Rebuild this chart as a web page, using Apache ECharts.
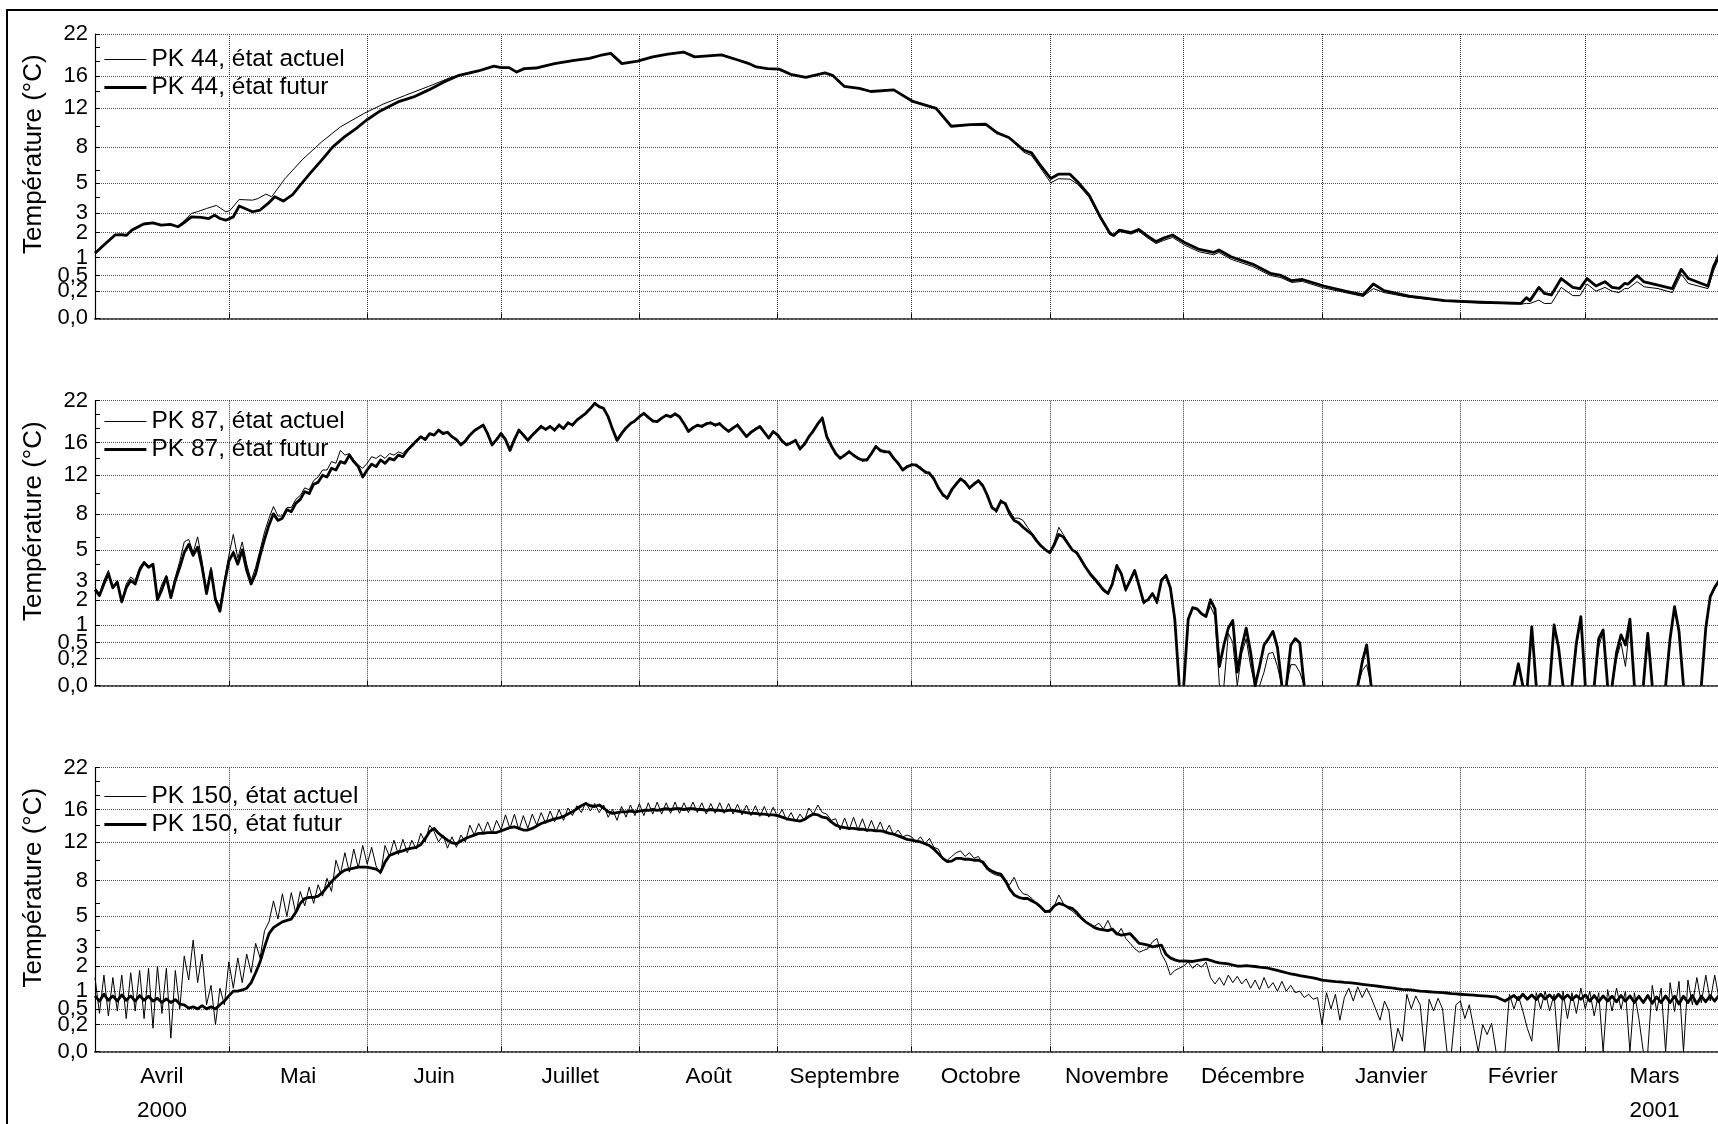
<!DOCTYPE html>
<html><head><meta charset="utf-8">
<script src="https://cdn.jsdelivr.net/npm/echarts@6/dist/echarts.min.js"></script>
<style>html,body{margin:0;padding:0;background:#fff}#c{width:1718px;height:1124px}</style>
</head><body><div id="c"></div>
<script>
// ---------- axes ----------
const monthNames = ['Avril','Mai','Juin','Juillet','Août','Septembre','Octobre','Novembre','Décembre','Janvier','Février','Mars'];
const yearUnderMonth = ['2000','','','','','','','','','','','2001'];
const monthStarts = [0,30,61,91,122,153,183,214,244,275,306,334,365];
const monthMids = [15,45.5,76,106.5,137.5,168,198.5,229,259.5,290.5,320,349.5];
const yTickValues = [0,0.2,0.5,1,2,3,5,8,12,16,22];
const yTickLabels = ['0,0','0,2','0,5','1','2','3','5','8','12','16','22'];
const yMinorTickValues = [4,6,10,14,18,20];

// ---------- PK 44 : [day since 1 April 2000, °C] ----------
const pk44Actuel = [[0,1.15],[2,1.46],[4.5,1.89],[6,1.9],[7,1.87],[8.3,2.12],[10.9,2.42],[13,2.48],[14.8,2.36],[16.9,2.4],[18.6,2.3],[20,2.6],[21.6,2.99],[23,3.1],[25,3.28],[27.2,3.47],[29.3,3.09],[30.2,3.15],[32.3,3.84],[35.3,3.8],[36.5,3.9],[38.3,4.2],[39.6,4.02],[42.6,5.32],[46.5,6.86],[50.8,8.47],[55,9.97],[60.2,11.4],[64.5,12.47],[69.6,13.54],[74.8,14.65],[80,15.85],[84.2,16.5],[85.9,16.65],[89.4,17.3],[91,17.1],[92.8,17.1],[94.5,16.5],[96.2,16.97],[98.8,17.05],[103,17.65],[107.4,18.1],[110.8,18.4],[113.2,18.8],[115.6,19.1],[118.1,17.65],[121.6,18.0],[125,18.6],[128.4,19.0],[131.9,19.3],[134.4,18.6],[140.4,18.9],[143.9,18.2],[146.4,17.7],[148.2,17.2],[150.7,16.97],[153.3,16.9],[155.9,16.2],[159.3,15.8],[163.6,16.4],[165.3,16.07],[167.9,14.65],[171.3,14.4],[173.9,14.0],[179,14.2],[183.3,12.8],[188.5,12],[191.9,10.04],[196.2,10.2],[199.6,10.25],[202.2,9.36],[204.8,8.9],[208.2,7.5],[209.9,7.2],[211.6,6.3],[214.2,5.0],[215.9,5.3],[218.5,5.27],[220.2,4.9],[222.8,4.0],[225.3,2.7],[227.5,1.9],[228.3,1.82],[229.6,2.05],[232.2,1.93],[233.9,2.08],[235.6,1.8],[237.8,1.52],[239.5,1.65],[241.5,1.78],[244.3,1.45],[247.5,1.2],[250.7,1.1],[251.9,1.18],[254.6,0.95],[259.4,0.73],[263.4,0.5],[265.8,0.45],[268.2,0.35],[270.6,0.37],[275.4,0.25],[280.2,0.18],[284.2,0.13],[286.5,0.24],[288.9,0.18],[294.5,0.12],[302.5,0.08],[310.5,0.065],[319.6,0.055],[320.8,0.06],[321.6,0.06],[323.6,0.09],[324.8,0.06],[326.4,0.06],[328.6,0.26],[331.2,0.14],[332.8,0.14],[334.4,0.32],[336.4,0.2],[338.4,0.26],[340,0.2],[341.6,0.18],[342.8,0.24],[343.6,0.24],[345.6,0.365],[347.2,0.27],[350.3,0.24],[353.5,0.18],[355.5,0.53],[357.1,0.33],[361.5,0.24],[362.7,0.6],[363.7,0.9],[365,1.3]];
const pk44Futur = [[0,1.15],[2,1.46],[4.5,1.89],[6,1.9],[7,1.87],[8.3,2.12],[10.9,2.42],[13,2.48],[14.8,2.36],[16.9,2.4],[18.6,2.28],[19.9,2.48],[21.6,2.8],[23.8,2.77],[25.5,2.71],[26.8,2.9],[28,2.71],[29.3,2.62],[31,2.8],[32.3,3.43],[33.6,3.28],[35.3,3.09],[37,3.19],[38.8,3.59],[40.3,4.02],[42.2,3.74],[44.3,4.17],[46,4.83],[48.2,5.71],[50.8,6.81],[53.3,8],[55.9,8.96],[58.5,9.8],[60.8,10.68],[63.6,11.6],[67.9,12.74],[71.4,13.34],[74.8,14.2],[78.2,15.2],[81.6,16.07],[85.9,16.65],[89.4,17.3],[91,17.1],[92.8,17.1],[94.5,16.5],[96.2,16.97],[98.8,17.05],[103,17.65],[107.4,18.1],[110.8,18.4],[113.2,18.8],[115.6,19.1],[118.1,17.65],[121.6,18.0],[125,18.6],[128.4,19.0],[131.9,19.3],[134.4,18.6],[140.4,18.9],[143.9,18.2],[146.4,17.7],[148.2,17.2],[150.7,16.97],[153.3,16.9],[155.9,16.2],[159.3,15.8],[163.6,16.4],[165.3,16.07],[167.9,14.65],[171.3,14.4],[173.9,14.0],[179,14.2],[183.3,12.8],[188.5,12],[191.9,10.04],[196.2,10.2],[199.6,10.25],[202.2,9.36],[204.8,8.9],[208.2,7.69],[209.9,7.45],[211.6,6.52],[214.2,5.32],[215.9,5.65],[218.5,5.65],[220.2,5.08],[222.8,4.13],[225.3,2.8],[227.5,1.96],[228.3,1.88],[229.6,2.12],[232.2,2.0],[233.9,2.15],[235.6,1.88],[237.8,1.6],[239.5,1.75],[241.5,1.89],[244.3,1.55],[247.5,1.29],[250.7,1.18],[251.9,1.27],[254.6,1.03],[259.4,0.8],[263.4,0.55],[265.8,0.5],[268.2,0.385],[270.6,0.41],[275.4,0.284],[280.2,0.2],[284.2,0.148],[286.5,0.32],[288.9,0.208],[294.5,0.135],[302.5,0.085],[310.5,0.07],[319.6,0.061],[320.8,0.116],[321.6,0.085],[323.6,0.26],[324.8,0.17],[326.4,0.148],[328.6,0.43],[331.2,0.26],[332.8,0.24],[334.4,0.43],[336.4,0.284],[338.4,0.365],[340,0.26],[341.6,0.244],[342.8,0.33],[343.6,0.32],[345.6,0.5],[347.2,0.36],[350.3,0.3],[353.5,0.24],[355.5,0.65],[357.1,0.43],[361.5,0.284],[362.7,0.72],[363.7,1.01],[365,1.4]];

// ---------- PK 87 : daily °C, one array per month (Avril ... Mars) ----------
const pk87Actuel = [
 [2.6,2.3,3.0,3.6,2.6,3.0,1.9,2.8,3.2,3.0,3.8,4.2,3.9,3.8,2.1,2.8,3.3,2.2,3.2,4.2,5.6,5.8,4.8,6.0,4.2,2.4,3.8,2.1,1.7,3.0],
 [4.6,6.2,4.4,5.6,4.0,3.0,3.8,5.0,6.4,7.6,8.7,7.8,7.8,8.6,8.6,9.4,9.8,10.6,10.4,11.4,11.8,12.6,12.6,13.6,13.4,15.0,14.4,14.6,13.8,13.2,12.8],
 [13.4,14.2,14.0,14.4,14.0,14.6,14.4,14.8,14.6,15.2,15.8,16.4,16.8,16.6,17.2,17.0,17.7,17.4,17.4,16.9,16.4,15.8,16.4,17.1,17.7,18.1,18.5,17.0,15.8,16.6],
 [17.4,16.6,15.2,16.6,17.8,17.2,16.5,17.2,17.8,18.4,17.6,18.4,17.5,18.6,17.8,18.9,18.2,19.3,19.4,20.3,20.6,21.8,20.9,21.0,19.4,18.0,16.5,17.4,17.8,18.8,18.8],
 [19.8,19.9,19.7,18.8,19.1,19.2,20.0,19.4,20.2,19.4,18.8,17.7,18.2,18.2,18.4,18.4,18.9,18.2,18.8,17.8,17.7,17.8,18.6,17.4,17.0,17.2,18.0,18.0,17.2,16.8,17.3],
 [17.2,16.0,15.9,15.8,16.5,15.0,16.0,16.6,17.8,18.4,19.6,16.6,15.8,14.4,14.2,14.2,15.0,14.2,14.2,13.6,14.0,14.4,15.7,14.8,15.0,14.6,14.2,13.2,12.8,12.8],
 [13.4,13.0,13.0,12.2,12.4,11.4,10.8,9.7,9.7,10.2,11.2,11.4,11.4,10.4,11.2,11.2,11.0,9.6,8.8,8.1,9.4,8.8,8.3,7.6,7.6,7.4,6.8,6.3,5.8,5.2,5.0],
 [4.7,5.6,6.8,6.2,5.6,5.0,4.7,4.2,3.8,3.3,3.0,2.7,2.4,2.3,2.9,4.0,3.3,2.4,3.1,3.5,2.6,1.8,2.0,2.3,1.8,3.1,3.2,2.5,1.1,0],
 [0,1.2,1.65,1.55,1.4,1.3,1.7,1.3,0,0,0.74,0.5,0,0.28,0.6,0.1,0,0,0.05,0.28,0.3,0.1,0,0,0.12,0.12,0.05,0,0,0,0],
 [0,0,0,0,0,0,0,0,0,0.06,0.12,0,0,0,0,0,0,0,0,0,0,0,0,0,0,0,0,0,0,0,0],
 [0,0,0,0,0,0,0,0,0,0,0,0,0,0.1,0,0,0.9,0,0,0,0,0.95,0.35,0,0,0,0.4,1.2],
 [0,0,0,0.4,0.8,0,0,0.2,0.5,0.1,1.1,0,0,0,0.7,0,0,0,0,0.55,1.6,0.75,0,0,0,0,0,0.85,2.1,2.55,2.9]
];
const pk87Futur = [
 [2.5,2.2,2.8,3.4,2.6,2.9,1.9,2.6,3.0,2.8,3.6,4.1,3.8,4.0,2.0,2.5,3.2,2.1,3.0,3.8,4.8,5.4,4.6,5.2,3.8,2.3,3.6,2.0,1.5,2.8],
 [4.2,4.8,4.0,5.0,3.6,2.8,3.4,4.6,5.8,7.0,8.0,7.4,7.6,8.4,8.2,9.0,9.4,10.2,10.0,11.0,11.2,12.0,11.8,12.8,12.6,13.6,13.4,14.4,13.6,13.0,11.8],
 [12.6,13.3,13.0,13.8,13.4,14.0,13.8,14.4,14.2,15.0,15.6,16.2,16.8,16.4,17.2,17.0,17.7,17.2,17.4,16.8,16.4,15.7,16.2,17.0,17.6,18.0,18.4,17.2,15.7,16.4],
 [17.2,16.4,15.0,16.4,17.7,17.0,16.3,17.0,17.6,18.2,17.8,18.2,17.7,18.4,17.9,18.7,18.4,19.1,19.6,20.1,20.8,21.6,21.1,20.8,19.6,17.8,16.3,17.2,18.0,18.6,19.0],
 [19.6,20.1,19.5,19.0,18.9,19.4,19.8,19.6,20.0,19.6,18.6,17.5,18.0,18.4,18.2,18.6,18.7,18.4,18.6,18.0,17.5,18.0,18.4,17.6,16.8,17.4,17.8,18.2,17.4,16.6,17.5],
 [17.0,16.2,15.7,16.0,16.3,15.2,15.8,16.8,17.6,18.6,19.4,16.8,15.6,14.6,14.0,14.4,14.8,14.4,14.0,13.8,13.8,14.6,15.5,15.0,14.8,14.8,14.0,13.4,12.6,13.0],
 [13.2,13.2,12.8,12.4,12.2,11.6,10.6,9.9,9.5,10.4,11.0,11.6,11.2,10.6,11.0,11.4,10.8,9.8,8.6,8.3,9.2,9.0,8.0,7.4,7.2,6.8,6.5,6.2,5.7,5.3,5.0],
 [4.8,5.4,6.2,6.0,5.5,5.0,4.8,4.3,3.8,3.4,3.1,2.8,2.5,2.3,2.8,3.9,3.4,2.5,3.0,3.6,2.7,1.9,2.0,2.3,1.9,3.0,3.3,2.6,1.2,0],
 [0,1.2,1.65,1.6,1.4,1.3,2.0,1.6,0.1,0.45,0.9,1.15,0.05,0.4,0.9,0.3,0,0.1,0.45,0.6,0.8,0.4,0,0,0.45,0.6,0.5,0,0,0,0],
 [0,0,0,0,0,0,0,0,0,0.15,0.45,0,0,0,0,0,0,0,0,0,0,0,0,0,0,0,0,0,0,0,0],
 [0,0,0,0,0,0,0,0,0,0,0,0,0,0.13,0,0,0.94,0,0,0,0,1.0,0.4,0,0,0,0.5,1.29],
 [0,0,0,0.6,0.84,0,0,0.3,0.7,0.45,1.2,0,0,0,0.74,0,0,0,0,0.6,1.69,0.8,0,0,0,0,0,0.9,2.15,2.62,3.0]
];

// ---------- PK 150 : daily °C, one array per month (Avril ... Mars) ----------
const pk150Actuel = [
 [1.5,0.4,1.6,0.35,1.5,0.45,1.6,0.3,1.7,0.45,1.8,0.3,1.9,0.15,2.0,0.4,1.9,0.05,1.8,0.5,2.5,1.4,3.4,1.3,2.6,0.6,1.2,0.2,1.1,0.6],
 [2.2,1.1,2.4,1.3,2.6,1.7,3.2,2.4,4.0,4.6,6.2,4.8,6.8,5.0,6.9,5.2,7.0,5.8,7.4,6.0,7.6,6.6,8.2,7.0,10.0,8.6,10.8,8.8,11.2,9.2,11.6],
 [9.6,11.4,9.4,8.6,11.6,10.4,12.2,10.6,12.3,10.8,12.2,11.2,13.0,12.0,14.0,13.2,12.0,12.8,11.3,12.6,11.4,12.8,12.0,14.0,12.8,14.2,13.0,14.4,13.0,14.6],
 [13.4,15.3,13.6,15.4,13.4,15.2,13.6,15.4,14.0,15.6,14.2,15.8,14.4,16.0,14.6,16.2,15.2,16.5,15.6,17.0,15.8,16.8,15.6,16.6,15.0,16.0,14.6,16.4,15.0,16.6,15.2],
 [16.8,15.2,16.9,15.4,17.0,15.4,16.9,15.5,17.0,15.5,16.9,15.6,17.0,15.6,16.9,15.4,16.8,15.5,16.9,15.5,16.8,15.4,16.7,15.3,16.6,15.2,16.5,15.1,16.4,15.0,16.3],
 [15.0,16.0,14.6,15.6,14.4,15.4,14.6,16.2,15.4,16.6,15.6,15.4,14.6,14.8,13.4,14.9,13.4,15.0,13.4,14.8,13.2,14.6,13.2,14.4,13.0,14.0,12.8,13.4,12.6,12.8],
 [12.6,12.0,12.6,11.8,12.4,11.4,11.2,10.2,10.0,10.4,10.8,11.0,10.4,10.8,10.2,10.4,9.6,9.0,8.7,8.5,8.4,7.8,7.6,8.3,7.3,6.8,6.7,6.4,6.0,5.7,5.4],
 [5.3,5.8,6.7,6.0,5.6,5.4,5.1,4.8,4.6,4.4,4.3,4.5,4.1,4.7,4.0,3.7,4.15,3.5,3.2,2.9,2.7,2.8,2.9,3.3,3.5,2.6,2.2,1.6,1.8,1.9],
 [2.0,2.2,1.9,2.1,1.95,2.2,1.5,1.25,1.5,1.2,1.6,1.3,1.55,1.25,1.45,1.1,1.4,1.05,1.5,1.1,1.3,1.0,1.35,1.0,1.2,0.95,1.0,0.8,0.9,0.75,0.8],
 [0.2,0.95,0.5,0.9,0.27,0.8,1.1,0.7,1.15,0.8,1.1,0.8,0.5,0.27,0.7,0.45,0,0.15,0.03,0.9,0.5,0.85,0.6,0,0.75,0.45,0.78,0.5,0,0,0.6],
 [0.7,0.3,0.6,0.15,0,0.2,0.08,0.22,0,0,0,0.9,0.5,0.85,0.45,0.15,0.03,0.95,0.5,1.0,0.45,0.9,0,1.0,0.3,0.95,0.4,1.1],
 [0.5,1.0,0.35,0.95,0,1.05,0.45,1.1,0.5,1.0,0,0.95,0.3,0,0,1.2,0.45,1.1,0,1.3,0.44,1.35,0,1.4,0.6,1.5,0.65,1.6,0.7,1.6,0.75]
];
const pk150Futur = [
 [0.85,0.7,0.9,0.72,0.85,0.7,0.88,0.72,0.85,0.7,0.86,0.72,0.84,0.7,0.78,0.66,0.76,0.66,0.74,0.62,0.6,0.52,0.55,0.5,0.58,0.5,0.55,0.5,0.6,0.7],
 [0.85,1.0,1.0,1.04,1.1,1.3,1.7,2.2,3.0,3.8,4.2,4.4,4.6,4.7,4.8,5.3,6.0,6.4,6.5,6.5,6.6,6.9,7.4,7.9,8.3,8.7,9.0,9.1,9.2,9.3,9.3],
 [9.3,9.2,9.1,8.8,9.8,10.5,10.7,10.9,11.0,11.2,11.3,11.4,11.7,12.4,13.2,13.6,13.0,12.6,12.2,11.9,11.8,12.1,12.4,12.6,12.8,13.0,13.0,13.1,13.1,13.1],
 [13.3,13.5,13.7,13.8,13.6,13.4,13.4,13.6,13.9,14.2,14.4,14.6,14.8,14.9,15.1,15.4,15.7,16.1,16.5,16.8,16.5,16.4,16.6,16.2,15.7,15.5,15.6,15.7,15.7,15.8,15.7],
 [15.8,15.9,15.9,16.0,15.9,16.0,16.1,16.0,16.1,16.1,16.0,16.1,16.1,16.0,16.0,15.9,16.0,15.9,15.9,15.8,15.9,15.9,15.8,15.7,15.6,15.5,15.5,15.4,15.4,15.3,15.3],
 [15.2,15.0,14.8,14.7,14.6,14.5,14.7,15.1,15.4,15.3,15.0,14.9,14.4,14.0,13.8,13.7,13.6,13.6,13.5,13.5,13.4,13.4,13.3,13.3,13.2,13.0,12.9,12.7,12.5,12.3],
 [12.2,12.1,12.0,11.8,11.6,11.2,10.7,10.2,9.85,9.9,10.2,10.2,10.1,10.1,10.0,10.0,9.8,9.2,8.9,8.7,8.6,8.0,7.2,6.7,6.5,6.4,6.4,6.2,6.0,5.7,5.35],
 [5.4,5.8,6.0,5.9,5.7,5.6,5.3,4.9,4.6,4.4,4.2,4.1,4.05,4.0,4.1,3.8,3.7,3.75,3.8,3.5,3.2,3.15,3.1,3.0,3.05,3.1,2.6,2.4,2.3,2.24],
 [2.25,2.24,2.22,2.26,2.3,2.34,2.28,2.2,2.15,2.13,2.1,2.05,2.0,2.0,2.02,2.0,1.98,1.95,1.93,1.9,1.85,1.8,1.75,1.7,1.65,1.62,1.58,1.55,1.52,1.49,1.45],
 [1.4,1.38,1.36,1.34,1.33,1.31,1.3,1.28,1.26,1.24,1.22,1.2,1.18,1.16,1.14,1.12,1.1,1.08,1.06,1.05,1.04,1.02,1.0,0.99,0.98,0.97,0.96,0.95,0.94,0.92,0.91],
 [0.9,0.89,0.88,0.87,0.86,0.85,0.84,0.83,0.82,0.76,0.7,0.78,0.86,0.74,0.9,0.75,0.88,0.74,0.9,0.76,0.88,0.74,0.9,0.75,0.88,0.74,0.86,0.75],
 [0.88,0.7,0.86,0.68,0.85,0.7,0.84,0.68,0.86,0.7,0.85,0.66,0.84,0.66,0.86,0.64,0.82,0.66,0.85,0.66,0.84,0.62,0.84,0.66,0.86,0.62,0.84,0.68,0.86,0.7,0.88]
];

const panels = [
  {names:['PK 44, état actuel','PK 44, état futur'], actuel: pk44Actuel, futur: pk44Futur, kind:'pairs'},
  {names:['PK 87, état actuel','PK 87, état futur'], actuel: pk87Actuel, futur: pk87Futur, kind:'months'},
  {names:['PK 150, état actuel','PK 150, état futur'], actuel: pk150Actuel, futur: pk150Futur, kind:'months'}
];

// ---------- layout ----------
const FONT = "'Liberation Sans', Arial, sans-serif";
const gridTops = [34, 400.7, 767.7];
const gridHeights = [284.3, 285, 284];
const legendTops = [42, 404, 779];
const PLOT_LEFT = 95, PX_PER_DAY = 4.462;
const LINE_WIDTHS = [1, 2.8];

const sq = v => Math.sqrt(Math.max(0, v));
// values at 0 are only drawn where the curve reaches / leaves 0 (no trace along the axis)
function withGaps(points) {
  const out = [];
  for (let j = 0; j < points.length; j++) {
    const x = points[j][0], v = points[j][1];
    if (v > 0) { out.push([x, sq(v)]); continue; }
    const prevPos = j > 0 && points[j - 1][1] > 0;
    const nextPos = j < points.length - 1 && points[j + 1][1] > 0;
    if (!prevPos && !nextPos) continue;
    if (!prevPos) out.push([x - 0.01, null]);
    out.push([x, 0]);
    if (!nextPos) out.push([x + 0.01, null]);
  }
  return out;
}
function toSeriesData(src, kind) {
  if (kind === 'pairs') return withGaps(src);
  const pts = [];
  src.forEach((m, mi) => m.forEach((v, di) => pts.push([monthStarts[mi] + di, v])));
  return withGaps(pts);
}
function yLabel(v) {
  let best = 0;
  yTickValues.forEach((t, k) => { if (Math.abs(sq(t) - v) < Math.abs(sq(yTickValues[best]) - v)) best = k; });
  return yTickLabels[best];
}
function xLabel(v) {
  let best = 0;
  monthMids.forEach((t, k) => { if (Math.abs(t - v) < Math.abs(monthMids[best] - v)) best = k; });
  return monthNames[best] + (yearUnderMonth[best] ? '\n' + yearUnderMonth[best] : '');
}

const grid = [], xAxis = [], yAxis = [], series = [], legend = [];
panels.forEach((p, i) => {
  grid.push({left: PLOT_LEFT, top: gridTops[i], width: 365 * PX_PER_DAY, height: gridHeights[i],
    outerBoundsMode: 'none', containLabel: false});
  xAxis.push({
    type: 'value', gridIndex: i, min: 0, max: 365,
    axisLine: {show: true, onZero: false, lineStyle: {color: '#444', width: 2, type: 'dotted'}},
    axisTick: {show: true, inside: true, length: 5, customValues: monthStarts, lineStyle: {color: '#000'}},
    axisLabel: {show: i === 2, customValues: monthMids, formatter: xLabel, margin: 8,
      color: '#000', fontSize: 22.5, fontFamily: FONT, lineHeight: 34},
    splitLine: {show: true, lineStyle: {color: '#333', type: 'dotted', width: 1}}
  });
  yAxis.push({
    type: 'value', gridIndex: i, min: 0, max: sq(22),
    name: 'Température (°C)', nameLocation: 'middle', nameRotate: 90, nameGap: 48,
    nameTextStyle: {color: '#000', fontSize: 26, fontFamily: FONT, padding: [0, 0, 0, 44]},
    axisLine: {show: true, lineStyle: {color: '#000', width: 1.2}},
    axisTick: {show: true, inside: true, length: 5, customValues: yTickValues.map(sq), lineStyle: {color: '#000'}},
    axisLabel: {show: true, customValues: yTickValues.map(sq), formatter: yLabel, margin: 7,
      color: '#000', fontSize: 22, fontFamily: FONT},
    splitLine: {show: true, lineStyle: {color: '#555', type: 'dotted', width: 1}}
  });
  yAxis.push({
    type: 'value', gridIndex: i, min: 0, max: sq(22), position: 'left',
    axisLine: {show: false}, axisLabel: {show: false}, splitLine: {show: false},
    axisTick: {show: true, inside: true, length: 5, customValues: yMinorTickValues.map(sq), lineStyle: {color: '#000'}}
  });
  [p.actuel, p.futur].forEach((src, k) => {
    series.push({
      name: p.names[k], type: 'line', xAxisIndex: i, yAxisIndex: 2 * i,
      data: toSeriesData(src, p.kind), symbol: 'none', silent: true, connectNulls: false,
      lineStyle: {color: '#000', width: LINE_WIDTHS[k], join: 'round'}
    });
  });
  legend.push({
    data: p.names.map((n, k) => ({name: n, lineStyle: {width: LINE_WIDTHS[k], color: '#000'}})),
    orient: 'vertical', left: 98, top: legendTops[i],
    itemWidth: 42, itemHeight: 14, itemGap: 3, selectedMode: false,
    itemStyle: {opacity: 0},
    textStyle: {color: '#000', fontSize: 24.5, fontFamily: FONT}
  });
});

const chart = echarts.init(document.getElementById('c'), null, {renderer: 'canvas'});
chart.setOption({
  animation: false,
  backgroundColor: '#fff',
  grid, xAxis, yAxis, series, legend,
  graphic: [{type: 'rect', shape: {x: 7, y: 10, width: 1800, height: 1200}, style: {fill: 'none', stroke: '#000', lineWidth: 2}, silent: true}]
});
</script></body></html>
